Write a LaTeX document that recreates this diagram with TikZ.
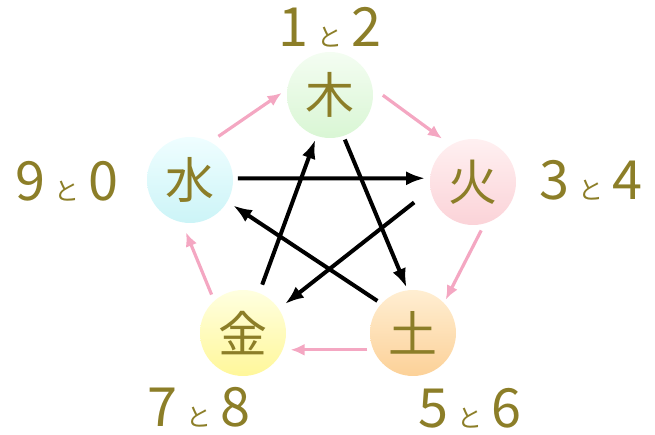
\documentclass[tikz,border=0pt]{standalone}
\usepackage{fontspec}
\usetikzlibrary{arrows.meta}
\newfontfamily\jpfont{Noto Sans CJK JP}
\definecolor{txtolive}{HTML}{8C7E28}
\definecolor{arrpink}{HTML}{F4A7C2}
\newcommand{\pairlabel}[2]{#1\hspace{9pt}{\fontsize{25}{25}\selectfont と}\hspace{9pt}#2}

\tikzset{
	elem/.style={circle, minimum size=86pt, inner sep=0pt, outer sep=0pt, text=txtolive, font=\jpfont\fontsize{49}{49}\selectfont},
	num/.style={text=txtolive, font=\jpfont\fontsize{54}{54}\selectfont, inner sep=0pt},
	gen/.style={draw=arrpink, line width=3.2pt, arrows={-Latex[length=14pt,width=12pt]}},
	ctrl/.style={draw=black, line width=4pt, arrows={-Latex[length=19pt,width=14pt]}}
}

\begin{document}
\begin{tikzpicture}[x=1pt,y=1pt]
	\useasboundingbox (0,0) rectangle (655,435);
	% the five elements
	\node [elem, top color={rgb,255:red,244;green,253;blue,242}, bottom color={rgb,255:red,217;green,246;blue,212}] (moku) at (330,340) {木};
	\node [elem, top color={rgb,255:red,255;green,240;blue,241}, bottom color={rgb,255:red,251;green,211;blue,216}] (ka) at (473,253) {火};
	\node [elem, top color={rgb,255:red,239;green,254;blue,255}, bottom color={rgb,255:red,204;green,244;blue,247}] (sui) at (190,255) {水};
	\node [elem, top color={rgb,255:red,255;green,255;blue,224}, bottom color={rgb,255:red,255;green,247;blue,154}] (kin) at (243,102) {金};
	\node [elem, top color={rgb,255:red,255;green,238;blue,210}, bottom color={rgb,255:red,252;green,209;blue,152}] (do) at (413,102) {土};
	% numbers
	\node [num] (n12) at (330,408) {\pairlabel{1}{2}};
	\node [num] (n34) at (591,255) {\pairlabel{3}{4}};
	\node [num] (n56) at (470,27) {\pairlabel{5}{6}};
	\node [num] (n78) at (199,28) {\pairlabel{7}{8}};
	\node [num] (n90) at (67,254) {\pairlabel{9}{0}};
	% outer cycle
	\draw [gen, shorten <=10pt, shorten >=7pt] (sui.62) -- (moku.172);
	\draw [gen, shorten <=13pt, shorten >=11pt] (moku.10) -- (ka.121);
	\draw [gen, shorten <=8pt, shorten >=4pt] (ka.-74) -- (do.44);
	\draw [gen, shorten <=6pt, shorten >=8pt] (do.203) -- (kin.-23);
	\draw [gen, shorten <=7pt, shorten >=11pt] (kin.132) -- (sui.-101);
	% star
	\draw [ctrl, shorten <=5pt, shorten >=5pt] (sui.2) -- (ka.175);
	\draw [ctrl, shorten <=21pt, shorten >=8pt] (ka.190) -- (kin.34);
	\draw [ctrl, shorten <=9pt, shorten >=4pt] (kin.68) -- (moku.-108);
	\draw [ctrl, shorten <=4pt, shorten >=3pt] (moku.-72) -- (do.97);
	\draw [ctrl, shorten <=5pt, shorten >=7pt] (do.137) -- (sui.-30);
\end{tikzpicture}
\end{document}
